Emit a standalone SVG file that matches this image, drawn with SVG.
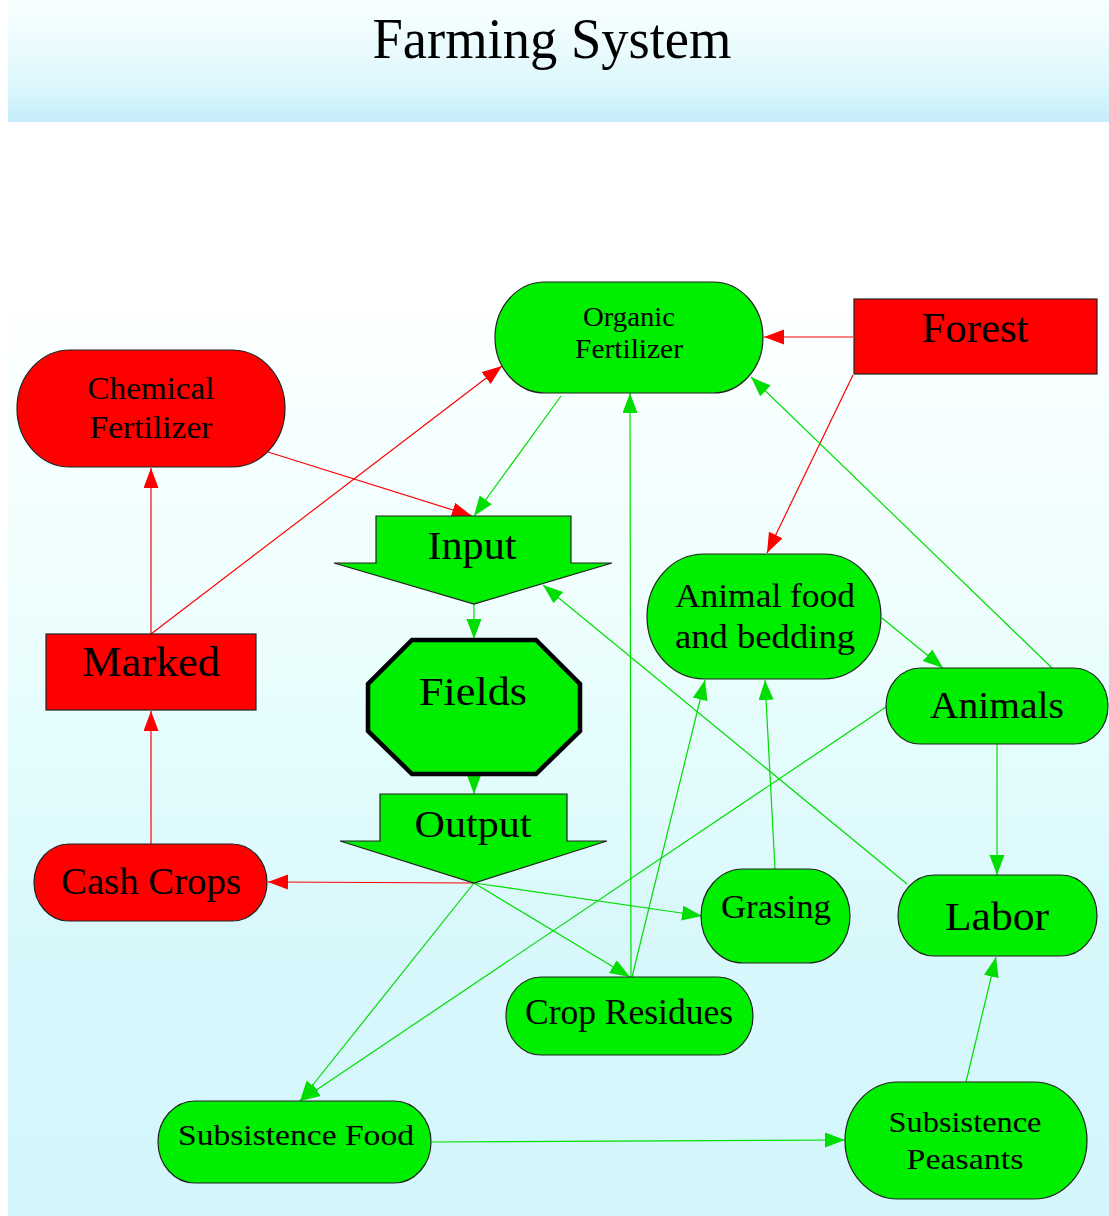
<svg xmlns="http://www.w3.org/2000/svg" width="1109" height="1216" viewBox="0 0 1109 1216">
<defs>
<linearGradient id="gTitle" gradientUnits="userSpaceOnUse" x1="0" y1="0" x2="0" y2="122">
<stop offset="0" stop-color="#f8ffff"/>
<stop offset="0.3" stop-color="#eefcfe"/>
<stop offset="0.7" stop-color="#dcf7fc"/>
<stop offset="1" stop-color="#c6edfa"/>
</linearGradient>
<linearGradient id="gMain" gradientUnits="userSpaceOnUse" x1="0" y1="122" x2="0" y2="1216">
<stop offset="0" stop-color="#ffffff"/>
<stop offset="0.16" stop-color="#ffffff"/>
<stop offset="0.26" stop-color="#f7ffff"/>
<stop offset="0.44" stop-color="#effefe"/>
<stop offset="0.56" stop-color="#e5fdfd"/>
<stop offset="0.74" stop-color="#d9f8fc"/>
<stop offset="1" stop-color="#d2f6fc"/>
</linearGradient>
<marker id="ar" markerUnits="userSpaceOnUse" markerWidth="22" markerHeight="16" refX="20" refY="7.5" orient="auto">
<path d="M0,0 L20,7.5 L0,15 z" fill="#ff0000"/>
</marker>
<marker id="ag" markerUnits="userSpaceOnUse" markerWidth="22" markerHeight="16" refX="20" refY="7.5" orient="auto">
<path d="M0,0 L20,7.5 L0,15 z" fill="#00dd00"/>
</marker>
</defs>
<style>
.t{font-family:"Liberation Serif","Times New Roman",serif;fill:#000;text-anchor:middle}
.gn{fill:#00ee00;stroke:#222;stroke-width:1.2}
.rn{fill:#ff0000;stroke:#222;stroke-width:1.2}
.er{fill:none;stroke:#ff0000;stroke-width:1.2;marker-end:url(#ar)}
.eg{fill:none;stroke:#00dd00;stroke-width:1.2;marker-end:url(#ag)}
</style>
<rect x="0" y="0" width="1109" height="1216" fill="#ffffff"/>
<rect x="8" y="0" width="1101" height="122" fill="url(#gTitle)"/>
<rect x="8" y="122" width="1101" height="1094" fill="url(#gMain)"/>
<text class="t" x="552" y="58" font-size="56" textLength="359" lengthAdjust="spacingAndGlyphs">Farming System</text>

<g id="connectors">
<path class="er" d="M853,337 L764,337"/>
<path class="er" d="M853,375 L767,553"/>
<path class="er" d="M268,452 L472,516"/>
<path class="er" d="M151,634 L151,468"/>
<path class="er" d="M151,634 L502,366"/>
<path class="er" d="M474,883 L268,882"/>
<path class="er" d="M151,844 L151,711"/>
<path class="eg" d="M561,396 L474,516"/>
<path class="eg" d="M474,604 L474,639"/>
<path class="eg" d="M474,777 L474,794"/>
<path class="eg" d="M474,883 L702,916"/>
<path class="eg" d="M474,883 L630,977"/>
<path class="eg" d="M474,883 L300,1101"/>
<path class="eg" d="M631,977 L630,393"/>
<path class="eg" d="M632,977 L705,680"/>
<path class="eg" d="M775,869 L765,680"/>
<path class="eg" d="M882,618 L943,668"/>
<path class="eg" d="M1052,668 L751,377"/>
<path class="eg" d="M997,744 L997,875"/>
<path class="eg" d="M886,707 L300,1101"/>
<path class="eg" d="M907,884 L543,585"/>
<path class="eg" d="M966,1082 L996,957"/>
<path class="eg" d="M432,1142 L845,1140"/>
</g>

<g id="organic-fertilizer">
<rect class="gn" x="495" y="282" width="268" height="111" rx="50" ry="55.5"/>
<text class="t" x="629" y="326" font-size="27" textLength="92" lengthAdjust="spacingAndGlyphs">Organic</text>
<text class="t" x="629" y="358" font-size="27" textLength="108" lengthAdjust="spacingAndGlyphs">Fertilizer</text>
</g>
<g id="forest">
<rect class="rn" x="854" y="299" width="243" height="75"/>
<text class="t" x="975" y="342" font-size="42" textLength="107" lengthAdjust="spacingAndGlyphs">Forest</text>
</g>
<g id="chemical-fertilizer">
<rect class="rn" x="17" y="350" width="268" height="117" rx="53" ry="58.5"/>
<text class="t" x="151" y="399" font-size="31" textLength="127" lengthAdjust="spacingAndGlyphs">Chemical</text>
<text class="t" x="151" y="438" font-size="31" textLength="123" lengthAdjust="spacingAndGlyphs">Fertilizer</text>
</g>
<g id="marked">
<rect class="rn" x="46" y="634" width="210" height="76"/>
<text class="t" x="151" y="676" font-size="42" textLength="138" lengthAdjust="spacingAndGlyphs">Marked</text>
</g>
<g id="input">
<path class="gn" d="M376,516 L571,516 L571,563 L612,563 L474,604 L334,563 L376,563 z"/>
<text class="t" x="472" y="559" font-size="40" textLength="89" lengthAdjust="spacingAndGlyphs">Input</text>
</g>
<g id="fields">
<path d="M412,640 L536,640 L580,684 L580,731 L536,774 L412,774 L368,731 L368,684 z" fill="#00ee00" stroke="#000" stroke-width="4.5"/>
<text class="t" x="473" y="705" font-size="40" textLength="108" lengthAdjust="spacingAndGlyphs">Fields</text>
</g>
<g id="output">
<path class="gn" d="M380,794 L567,794 L567,841 L607,841 L474,883 L340,841 L380,841 z"/>
<text class="t" x="473" y="837" font-size="38" textLength="117" lengthAdjust="spacingAndGlyphs">Output</text>
</g>
<g id="cash-crops">
<rect class="rn" x="34" y="844" width="233" height="77" rx="35" ry="38.5"/>
<text class="t" x="151" y="894" font-size="37" textLength="180" lengthAdjust="spacingAndGlyphs">Cash Crops</text>
</g>
<g id="animal-food">
<rect class="gn" x="647" y="554" width="234" height="125" rx="57" ry="62.5"/>
<text class="t" x="765" y="607" font-size="33" textLength="180" lengthAdjust="spacingAndGlyphs">Animal food</text>
<text class="t" x="765" y="648" font-size="33" textLength="180" lengthAdjust="spacingAndGlyphs">and bedding</text>
</g>
<g id="animals">
<rect class="gn" x="886" y="668" width="222" height="76" rx="34" ry="38"/>
<text class="t" x="997" y="718" font-size="37" textLength="134" lengthAdjust="spacingAndGlyphs">Animals</text>
</g>
<g id="labor">
<rect class="gn" x="898" y="875" width="199" height="81" rx="36" ry="40.5"/>
<text class="t" x="997" y="930" font-size="40" textLength="104" lengthAdjust="spacingAndGlyphs">Labor</text>
</g>
<g id="grasing">
<rect class="gn" x="701" y="869" width="149" height="94" rx="42" ry="47"/>
<text class="t" x="776" y="918" font-size="34" textLength="110" lengthAdjust="spacingAndGlyphs">Grasing</text>
</g>
<g id="crop-residues">
<rect class="gn" x="506" y="977" width="247" height="78" rx="35" ry="39"/>
<text class="t" x="629" y="1024" font-size="35" textLength="208" lengthAdjust="spacingAndGlyphs">Crop Residues</text>
</g>
<g id="subsistence-food">
<rect class="gn" x="158" y="1101" width="273" height="82" rx="37" ry="41"/>
<text class="t" x="296" y="1145" font-size="30" textLength="236" lengthAdjust="spacingAndGlyphs">Subsistence Food</text>
</g>
<g id="subsistence-peasants">
<rect class="gn" x="845" y="1082" width="242" height="117" rx="53" ry="58.5"/>
<text class="t" x="965" y="1132" font-size="30" textLength="153" lengthAdjust="spacingAndGlyphs">Subsistence</text>
<text class="t" x="965" y="1169" font-size="30" textLength="117" lengthAdjust="spacingAndGlyphs">Peasants</text>
</g>
</svg>
